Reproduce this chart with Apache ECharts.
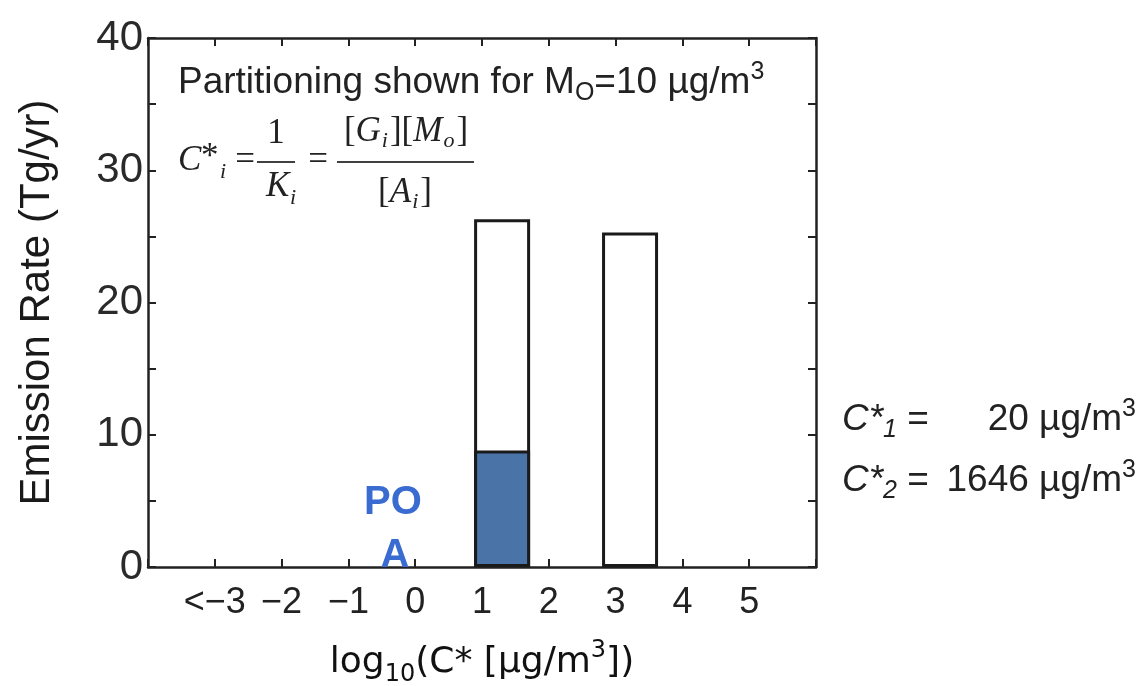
<!DOCTYPE html>
<html><head><meta charset="utf-8">
<script src="https://cdn.jsdelivr.net/npm/echarts@6/dist/echarts.min.js"></script>
<style>html,body{margin:0;padding:0;background:#fff}#c{width:1140px;height:686px}</style>
</head><body><div id="c"></div>
<script>
// ---- data ----
const xTickValues = [-3, -2, -1, 0, 1, 2, 3, 4, 5];
const xTickLabels = ['<−3', '−2', '−1', '0', '1', '2', '3', '4', '5'];
const yTickLabels = [0, 10, 20, 30, 40];
const cStar = [20, 1646];             // µg/m3, volatility bins
const totalEmission = [26.3, 25.3];   // Tg/yr (gas + particle)
const particleEmission = [8.8, 0.15]; // Tg/yr (POA, particle phase)

const binX = cStar.map(c => Math.log10(c));
const totalData = binX.map((x, i) => [x, totalEmission[i]]);
const particleData = binX.map((x, i) => [x, particleEmission[i]]);

const SANS = 'Liberation Sans, Arial, sans-serif';
const SERIF = 'Liberation Serif, Times New Roman, serif';
const INK = '#222';

function t(x, y, text, rich, align, extra) {
  return Object.assign({
    type: 'text', x: x, y: y, z: 100,
    style: { text: text, rich: rich, align: align || 'left', verticalAlign: 'middle', fill: INK }
  }, extra || {});
}
const serifRich = {
  b: { fontFamily: SERIF, fontSize: 35, lineHeight: 40, color: '#000' },
  it: { fontFamily: SERIF, fontSize: 35, fontStyle: 'italic', lineHeight: 40, color: '#000' },
  s: { fontFamily: SERIF, fontSize: 22, fontStyle: 'italic', lineHeight: 22, verticalAlign: 'bottom', color: '#000', padding: [0, 2, 0, 1] }
};
const sansRich = {
  n: { fontFamily: SANS, fontSize: 37, lineHeight: 46, color: '#111' },
  it: { fontFamily: SANS, fontSize: 37, fontStyle: 'italic', lineHeight: 46, color: '#111' },
  s: { fontFamily: SANS, fontSize: 25, lineHeight: 25, verticalAlign: 'bottom', color: '#111' },
  si: { fontFamily: SANS, fontSize: 25, fontStyle: 'italic', lineHeight: 25, verticalAlign: 'bottom', color: '#111' },
  p: { fontFamily: SANS, fontSize: 25, lineHeight: 30, verticalAlign: 'top', color: '#111' }
};

const axisCommon = {
  axisLine: { show: true, onZero: false, lineStyle: { color: INK, width: 2.5 } },
  axisTick: { show: true, inside: true, length: 8, lineStyle: { color: INK, width: 2 } },
  splitLine: { show: false }
};

const chart = echarts.init(document.getElementById('c'));
chart.setOption({
  animation: false,
  backgroundColor: '#fff',
  grid: { left: 148, top: 38, width: 668, height: 529, show: false, containLabel: false, outerBoundsMode: 'none' },
  xAxis: [Object.assign({
    type: 'value', min: -4, max: 6, interval: 1, position: 'bottom',
    axisLabel: {
      margin: 18, fontSize: 36, fontFamily: SANS, color: INK,
      formatter: v => { const i = xTickValues.indexOf(v); return i >= 0 ? xTickLabels[i] : ''; }
    },
    name: '{n|log}{s|10}{n|(C* [µg/m}{p|3}{n|])}',
    nameLocation: 'middle', nameGap: 72,
    nameTextStyle: {
      rich: {
        n: { fontFamily: 'DejaVu Sans', fontSize: 36, lineHeight: 48, color: '#111' },
        s: { fontFamily: 'DejaVu Sans', fontSize: 24, lineHeight: 24, verticalAlign: 'bottom', color: '#111' },
        p: { fontFamily: 'DejaVu Sans', fontSize: 24, lineHeight: 30, verticalAlign: 'top', color: '#111' }
      }
    }
  }, axisCommon), Object.assign({
    type: 'value', min: -4, max: 6, interval: 1, position: 'top',
    axisLabel: { show: false }
  }, axisCommon)],
  yAxis: [Object.assign({
    type: 'value', min: 0, max: 40, interval: 5, position: 'left',
    axisLabel: {
      margin: 5, fontSize: 42, fontFamily: SANS, color: '#2a2a2a',
      formatter: v => yTickLabels.indexOf(v) >= 0 ? String(v) : ''
    },
    name: 'Emission Rate (Tg/yr)', nameLocation: 'middle', nameGap: 90,
    nameTextStyle: { fontSize: 42, fontFamily: SANS, color: '#1a1a1a' }
  }, axisCommon), Object.assign({
    type: 'value', min: 0, max: 40, interval: 5, position: 'right',
    axisLabel: { show: false }
  }, axisCommon)],
  series: [{
    name: 'Total', type: 'bar', xAxisIndex: 0, yAxisIndex: 0,
    data: totalData, barWidth: 56, barGap: '-100%',
    itemStyle: { color: '#fff', borderColor: '#1a1a1a', borderWidth: 3 }
  }, {
    name: 'Particle', type: 'bar', xAxisIndex: 0, yAxisIndex: 0,
    data: particleData, barWidth: 56, barGap: '-100%',
    itemStyle: { color: '#4a74a8', borderColor: '#1a1a1a', borderWidth: 3 }
  }],
  graphic: [
    // annotation
    t(178, 83, '{n|Partitioning shown for M}{s|O}{n|=10 µg/m}{p|3}', sansRich),
    // formula
    t(178, 161, '{it|C}', serifRich),
    t(201, 158, '{b|*}', serifRich),
    t(219, 172, '{s|i}', serifRich),
    t(245, 161, '{b|=}', serifRich, 'center'),
    t(276, 134, '{b|1}', serifRich, 'center'),
    { type: 'line', z: 100, shape: { x1: 257, y1: 162, x2: 295, y2: 162 }, style: { stroke: '#000', lineWidth: 1.6 } },
    t(266, 187, '{it|K}', serifRich),
    t(289, 198, '{s|i}', serifRich),
    t(318, 161, '{b|=}', serifRich, 'center'),
    { type: 'line', z: 100, shape: { x1: 337, y1: 162, x2: 474, y2: 162 }, style: { stroke: '#000', lineWidth: 1.6 } },
    t(406, 132, '{b|[}{it|G}{s|i}{b|][}{it|M}{s|o}{b|]}', serifRich, 'center'),
    t(405, 193, '{b|[}{it|A}{s|i}{b|]}', serifRich, 'center'),
    // right side values
    t(842, 420, '{it|C*}{si|1}{n| =}', sansRich),
    t(1136, 420, '{n|' + cStar[0] + ' µg/m}{p|3}', sansRich, 'right'),
    t(842, 481, '{it|C*}{si|2}{n| =}', sansRich),
    t(1136, 481, '{n|' + cStar[1] + ' µg/m}{p|3}', sansRich, 'right'),
    // POA label
    { type: 'text', x: 393, y: 503, z: 120, style: { text: 'PO', fontSize: 40, fontWeight: 'bold', fontFamily: SANS, fill: '#3a6bd0', align: 'center', verticalAlign: 'middle' } },
    { type: 'text', x: 395, y: 556, z: 120, style: { text: 'A', fontSize: 40, fontWeight: 'bold', fontFamily: SANS, fill: '#3a6bd0', align: 'center', verticalAlign: 'middle' } }
  ]
});
</script></body></html>
